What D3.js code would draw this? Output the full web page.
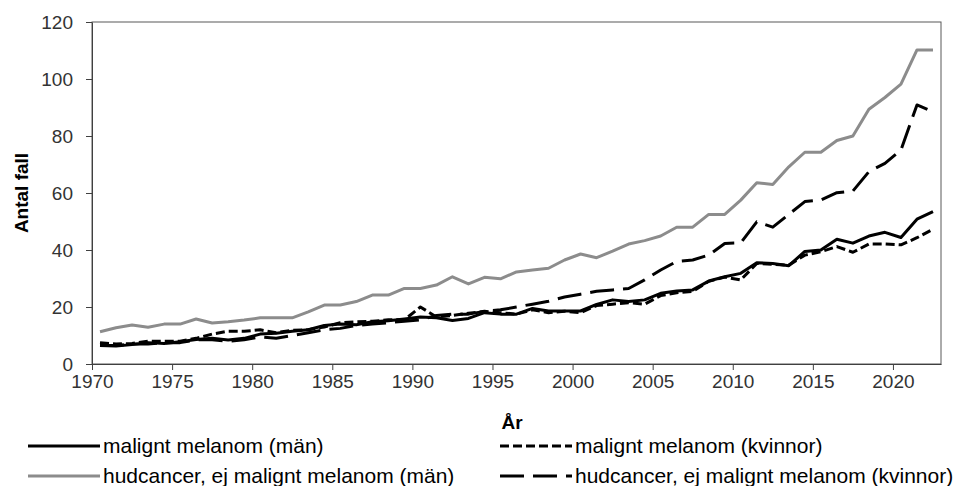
<html>
<script src="https://d3js.org/d3.v7.min.js"></script>
<body>
<style>
    body{
        margin: 0;
        background-color: white;
        font-family: "Liberation Sans", Arial, sans-serif;
    }
</style>

<div id="datavis"></div>

<script>
    // years 1970..2022, one value per year
    let years = d3.range(1970, 2023);

    let melanomMan = [6.5, 6.3, 6.8, 7.5, 7.2, 7.8, 8.6, 9.0, 8.4, 9.0,
        10.5, 10.8, 11.5, 12.0, 13.5, 14.0, 13.8, 14.8, 15.2, 15.8,
        16.5, 16.2, 15.3, 16.0, 18.0, 17.5, 17.5, 19.5, 18.6, 18.6,
        18.6, 20.9, 22.5, 21.9, 22.5, 24.8, 25.6, 26.0, 29.1, 30.6,
        31.8, 35.5, 35.3, 34.5, 39.5, 40.0, 43.8, 42.4, 44.9, 46.2,
        44.4, 50.8, 53.5];

    let melanomKvinnor = [7.5, 7.0, 7.2, 8.0, 8.0, 8.0, 9.0, 10.5, 11.5, 11.5,
        12.0, 11.0, 11.8, 12.0, 13.0, 14.5, 14.8, 15.0, 15.5, 15.5,
        20.0, 16.5, 17.0, 17.8, 18.5, 18.0, 17.5, 19.0, 18.0, 18.5,
        18.0, 20.5, 21.0, 21.5, 21.0, 24.0, 25.0, 25.5, 29.0, 30.5,
        29.5, 35.3, 35.0, 34.7, 38.2, 39.4, 41.2, 39.2, 42.1, 42.1,
        41.8, 44.3, 47.3];

    let hudMan = [11.3, 12.7, 13.7, 12.9, 14.0, 14.0, 15.8, 14.4, 14.8, 15.4,
        16.2, 16.2, 16.2, 18.3, 20.7, 20.7, 21.9, 24.2, 24.2, 26.5,
        26.5, 27.7, 30.6, 28.1, 30.4, 29.9, 32.3, 33.0, 33.6, 36.5,
        38.6, 37.3, 39.6, 42.1, 43.3, 44.9, 48.0, 48.0, 52.5, 52.5,
        57.5, 63.6, 63.0, 69.2, 74.3, 74.3, 78.4, 80.0, 89.4, 93.5,
        98.2, 110.2, 110.2];

    let hudKvinnor = [6.5, 6.5, 7.0, 7.0, 7.5, 7.5, 8.5, 8.5, 8.0, 8.5,
        9.5, 9.0, 10.0, 11.0, 12.0, 12.5, 13.5, 14.0, 14.5, 15.0,
        15.5, 17.0, 17.5, 17.5, 18.5, 19.0, 20.0, 21.0, 22.0, 23.5,
        24.5, 25.5, 26.0, 26.5, 29.5, 33.0, 36.0, 36.5, 38.2, 42.3,
        42.5, 49.9, 48.0, 52.5, 57.0, 57.5, 60.1, 60.7, 67.5, 70.4,
        75.1, 90.9, 88.5];

    let yTicks = [0, 20, 40, 60, 80, 100, 120];
    let xTicks = [1970, 1975, 1980, 1985, 1990, 1995, 2000, 2005, 2010, 2015, 2020];

    let seriesNames = ["malignt melanom (män)", "malignt melanom (kvinnor)",
        "hudcancer, ej malignt melanom (män)", "hudcancer, ej malignt melanom (kvinnor)"];

    // styles for each line, same order as the names
    let series = [
        {name: seriesNames[0], values: melanomMan, color: "#000", dash: null},
        {name: seriesNames[1], values: melanomKvinnor, color: "#000", dash: "9,4"},
        {name: seriesNames[2], values: hudMan, color: "#8c8c8c", dash: null},
        {name: seriesNames[3], values: hudKvinnor, color: "#000", dash: "24,9"}
    ];

    // note: "top" is taken by window.top, so plot edges get a prefix
    let width = 963, height = 486;
    let plotLeft = 92, plotRight = 941, plotTop = 22, plotBottom = 364;

    let svg = d3.select('#datavis').append('svg')
        .attr('width', width)
        .attr('height', height);

    // excel style: ticks on the year boundary, point in middle of the year
    let x = d3.scaleLinear().domain([1970, 2023]).range([plotLeft, plotRight]);
    let y = d3.scaleLinear().domain([0, 120]).range([plotBottom, plotTop]);

    // plot area border
    svg.append('rect')
        .attr('x', plotLeft)
        .attr('y', plotTop)
        .attr('width', plotRight - plotLeft)
        .attr('height', plotBottom - plotTop)
        .attr('fill', 'none')
        .attr('stroke', '#595959')
        .attr('stroke-width', 1);

    let yAxis = d3.axisLeft(y).tickValues(yTicks).tickSize(6).tickSizeOuter(0);
    svg.append('g')
        .attr('transform', `translate(${plotLeft},0)`)
        .call(yAxis)
        .call(g => g.selectAll('text')
            .attr('font-size', '19px')
            .attr('font-family', '"Liberation Sans", Arial, sans-serif')
            .attr('fill', '#333')
            .attr('x', -19))
        .call(g => g.selectAll('line').attr('stroke', '#404040'))
        .call(g => g.select('.domain').attr('stroke', '#404040'));

    let xAxis = d3.axisBottom(x).tickValues(xTicks).tickFormat(d3.format('d')).tickSize(6).tickSizeOuter(0);
    svg.append('g')
        .attr('transform', `translate(0,${plotBottom})`)
        .call(xAxis)
        .call(g => g.selectAll('text')
            .attr('font-size', '19px')
            .attr('font-family', '"Liberation Sans", Arial, sans-serif')
            .attr('fill', '#333')
            .attr('y', 11))
        .call(g => g.selectAll('line').attr('stroke', '#404040'))
        .call(g => g.select('.domain').attr('stroke', '#404040'));

    let line = d3.line()
        .x((d, i) => x(years[i] + 0.5))
        .y(d => y(d));

    svg.selectAll('.serie')
        .data(series)
        .enter().append('path')
        .attr('class', 'serie')
        .attr('fill', 'none')
        .attr('stroke', d => d.color)
        .attr('stroke-width', 3)
        .attr('stroke-dasharray', d => d.dash)
        .attr('stroke-linejoin', 'round')
        .attr('d', d => line(d.values));

    // axis titles
    svg.append('text')
        .text('Antal fall')
        .attr('transform', 'translate(28,193) rotate(-90)')
        .attr('text-anchor', 'middle')
        .attr('font-weight', 'bold')
        .attr('font-size', '19px')
        .attr('fill', '#000');

    svg.append('text')
        .text('År')
        .attr('x', 512)
        .attr('y', 429)
        .attr('text-anchor', 'middle')
        .attr('font-weight', 'bold')
        .attr('font-size', '19px')
        .attr('fill', '#000');

    // legend, 2 columns x 2 rows
    let legendPos = [[28, 446], [500, 446], [28, 476], [500, 476]];
    let legend = svg.selectAll('.legend')
        .data(series)
        .enter().append('g')
        .attr('class', 'legend')
        .attr('transform', (d, i) => `translate(${legendPos[i][0]},${legendPos[i][1]})`);

    legend.append('line')
        .attr('x1', 0)
        .attr('x2', 72)
        .attr('stroke', d => d.color)
        .attr('stroke-width', 3)
        .attr('stroke-dasharray', d => d.dash);

    legend.append('text')
        .text(d => d.name)
        .attr('x', 75)
        .attr('dy', '0.35em')
        .attr('font-size', '21px')
        .attr('fill', '#000');
</script>
</body>
</html>
